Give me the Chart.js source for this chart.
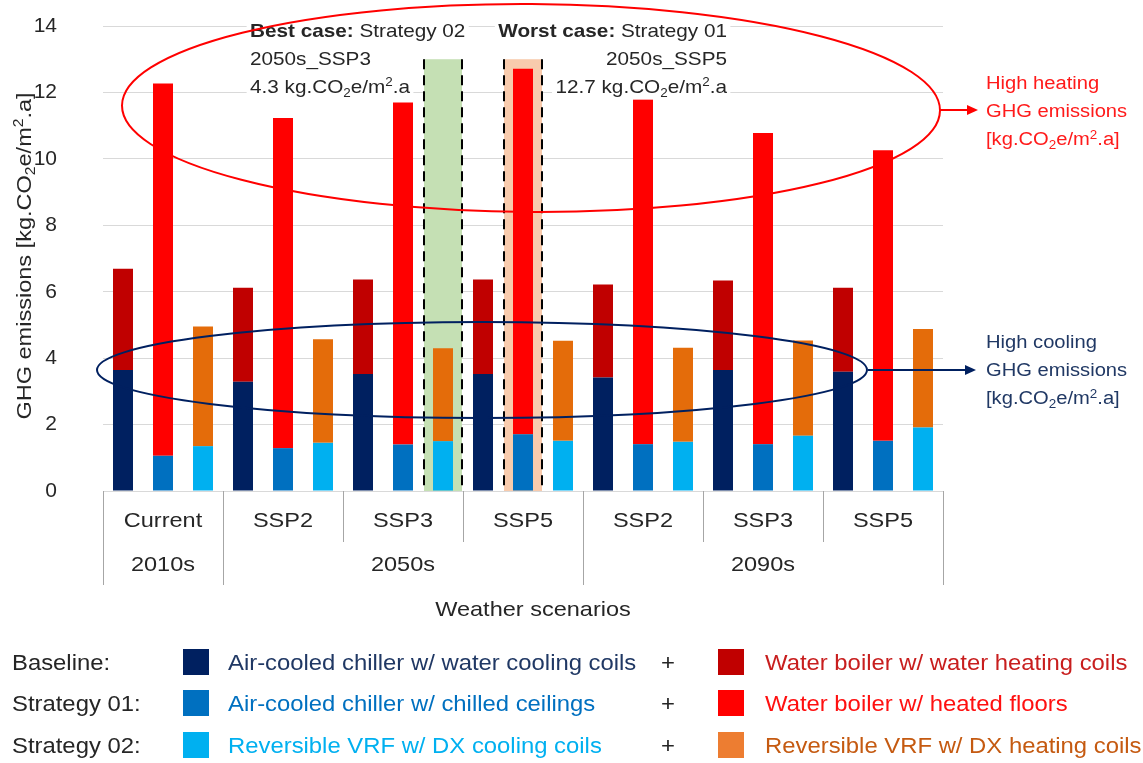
<!DOCTYPE html>
<html>
  <head>
    <meta charset="utf-8">
    <title>GHG emissions by weather scenario</title>
    <script src="https://cdn.jsdelivr.net/npm/chart.js@4.4.1/dist/chart.umd.min.js"></script>
    <style>
      body { margin: 0; background: #ffffff; }
    </style>
  </head>
  <body>
    <canvas id="myChart" width="1143" height="763"></canvas>

    <script>
      // data (kg.CO2e/m2.a)
      const scenarios = ['Current', 'SSP2', 'SSP3', 'SSP5', 'SSP2', 'SSP3', 'SSP5'];
      const periods = ['2010s', '2050s', '2090s'];
      const periodSpans = [1, 3, 3];

      const baseCooling = [3.64, 3.29, 3.52, 3.52, 3.42, 3.64, 3.59];
      const baseHeating = [3.05, 2.83, 2.85, 2.85, 2.80, 2.70, 2.53];
      const s01Cooling  = [1.06, 1.29, 1.40, 1.71, 1.41, 1.41, 1.51];
      const s01Heating  = [11.21, 9.94, 10.30, 11.00, 10.38, 9.37, 8.75];
      const s02Cooling  = [1.35, 1.45, 1.50, 1.51, 1.48, 1.66, 1.91];
      const s02Heating  = [3.60, 3.12, 2.80, 3.01, 2.83, 2.87, 2.97];

      const legendRows   = ['Baseline:', 'Strategy 01:', 'Strategy 02:'];
      const coolingNames = ['Air-cooled chiller w/ water cooling coils', 'Air-cooled chiller w/ chilled ceilings', 'Reversible VRF w/ DX cooling coils'];
      const heatingNames = ['Water boiler w/ water heating coils', 'Water boiler w/ heated floors', 'Reversible VRF w/ DX heating coils'];

      const FAM = '"Liberation Sans", Arial, sans-serif';
      const coolColors = ['#002060', '#0070C0', '#00B0F0'];
      const heatColors = ['#C00000', '#FF0000', '#E46C0A'];
      const heatSwatch = ['#C00000', '#FF0000', '#ED7D31'];
      const coolText = ['#203864', '#0070C0', '#00B0F0'];
      const heatText = ['#C81E1E', '#FF1010', '#C55A11'];

      // draws text with sub/superscripts, y = middle of the capitals
      function drawRich(ctx, parts, x, y, o) {
        const size = o.size, sx = o.sx || 1.12;
        const fnt = m => (m === 'b' ? 'bold ' : '') + ((m === 'sub' || m === 'sup') ? Math.round(size * 0.66) : size) + 'px ' + FAM;
        let w = 0;
        parts.forEach(p => { ctx.font = fnt(p[1]); w += ctx.measureText(p[0]).width; });
        ctx.save();
        ctx.translate(x, y);
        if (o.rot) ctx.rotate(o.rot);
        ctx.scale(sx, 1);
        let cx = o.align === 'right' ? -w : o.align === 'center' ? -w / 2 : 0;
        if (o.bg) {
          ctx.fillStyle = '#ffffff';
          ctx.fillRect(cx - 3, -size * 0.72, w + 6, size * 1.44);
        }
        ctx.fillStyle = o.color || '#262626';
        ctx.textAlign = 'left';
        ctx.textBaseline = 'alphabetic';
        const base = size * 0.36;
        parts.forEach(p => {
          ctx.font = fnt(p[1]);
          const dy = p[1] === 'sub' ? size * 0.22 : p[1] === 'sup' ? -size * 0.36 : 0;
          ctx.fillText(p[0], cx, base + dy);
          cx += ctx.measureText(p[0]).width;
        });
        ctx.restore();
      }

      const unit = (pre, post) => [[pre + 'kg.CO', 'n'], ['2', 'sub'], ['e/m', 'n'], ['2', 'sup'], ['.a' + post, 'n']];

      function arrow(ctx, x1, x2, y, color) {
        ctx.strokeStyle = color;
        ctx.fillStyle = color;
        ctx.lineWidth = 2;
        ctx.beginPath(); ctx.moveTo(x1, y); ctx.lineTo(x2 - 8, y); ctx.stroke();
        ctx.beginPath(); ctx.moveTo(x2, y); ctx.lineTo(x2 - 11, y - 5); ctx.lineTo(x2 - 11, y + 5); ctx.closePath(); ctx.fill();
      }

      // highlight boxes behind the best / worst bars
      const highlightPlugin = {
        id: 'highlight',
        beforeDatasetsDraw(chart) {
          const ctx = chart.ctx, y = chart.scales.y;
          const boxes = [
            { ds: 4, i: 2, fill: '#C5E0B4' },  // best case: Strategy 02, 2050s SSP3
            { ds: 2, i: 3, fill: '#F8CBAD' }   // worst case: Strategy 01, 2050s SSP5
          ];
          const top = y.getPixelForValue(13), bottom = y.getPixelForValue(0);
          ctx.save();
          boxes.forEach(b => {
            const bar = chart.getDatasetMeta(b.ds).data[b.i];
            const l = bar.x - 19, r = bar.x + 19;
            ctx.fillStyle = b.fill;
            ctx.fillRect(l, top, r - l, bottom - top);
            ctx.strokeStyle = '#000000';
            ctx.lineWidth = 2;
            ctx.setLineDash([10, 6]);
            [l, r].forEach(px => {
              ctx.beginPath(); ctx.moveTo(px, top); ctx.lineTo(px, bottom); ctx.stroke();
            });
            ctx.setLineDash([]);
          });
          ctx.restore();
        }
      };

      const decorPlugin = {
        id: 'decor',
        afterDraw(chart) {
          const ctx = chart.ctx, area = chart.chartArea, x = chart.scales.x;
          const catW = (area.right - area.left) / scenarios.length;
          ctx.save();

          // y axis title
          drawRich(ctx, [['GHG emissions [kg.CO', 'n'], ['2', 'sub'], ['e/m', 'n'], ['2', 'sup'], ['.a]', 'n']],
                   23, 256, { size: 21, rot: -Math.PI / 2, align: 'center' });

          // two level category axis
          ctx.strokeStyle = '#A6A6A6';
          ctx.lineWidth = 1;
          const longIdx = [0];
          let acc = 0;
          periodSpans.forEach(s => { acc += s; longIdx.push(acc); });
          for (let k = 0; k <= scenarios.length; k++) {
            const px = Math.round(area.left + k * catW) + 0.5;
            const end = longIdx.includes(k) ? 585 : 542;
            ctx.beginPath(); ctx.moveTo(px, area.bottom); ctx.lineTo(px, end); ctx.stroke();
          }
          scenarios.forEach((s, i) => drawRich(ctx, [[s, 'n']], x.getPixelForValue(i), 519, { size: 21, align: 'center' }));
          let start = 0;
          periods.forEach((p, k) => {
            const cx = area.left + (start + periodSpans[k] / 2) * catW;
            drawRich(ctx, [[p, 'n']], cx, 563, { size: 21, align: 'center' });
            start += periodSpans[k];
          });
          drawRich(ctx, [['Weather scenarios', 'n']], 533, 608, { size: 21, align: 'center' });

          // best / worst case notes
          const ns = 18.5;
          drawRich(ctx, [['Best case:', 'b'], [' Strategy 02', 'n']], 250, 30, { size: ns, bg: true });
          drawRich(ctx, [['2050s_SSP3', 'n']], 250, 58, { size: ns, bg: true });
          drawRich(ctx, unit('4.3 ', ''), 250, 86, { size: ns, bg: true });
          drawRich(ctx, [['Worst case:', 'b'], [' Strategy 01', 'n']], 727, 30, { size: ns, align: 'right', bg: true });
          drawRich(ctx, [['2050s_SSP5', 'n']], 727, 58, { size: ns, align: 'right', bg: true });
          drawRich(ctx, unit('12.7 ', ''), 727, 86, { size: ns, align: 'right', bg: true });

          // ellipses and arrows
          ctx.lineWidth = 2;
          ctx.strokeStyle = '#FF0000';
          ctx.beginPath(); ctx.ellipse(531, 108, 409, 104, 0.006, 0, Math.PI * 2); ctx.stroke();
          arrow(ctx, 940, 978, 110, '#FF0000');
          ctx.strokeStyle = '#002060';
          ctx.lineWidth = 2;
          ctx.beginPath(); ctx.ellipse(482, 370, 385, 48, 0, 0, Math.PI * 2); ctx.stroke();
          arrow(ctx, 868, 976, 370, '#002060');

          const rs = 18;
          drawRich(ctx, [['High heating', 'n']], 986, 83, { size: rs, color: '#FF1A1A' });
          drawRich(ctx, [['GHG emissions', 'n']], 986, 111, { size: rs, color: '#FF1A1A' });
          drawRich(ctx, unit('[', ']'), 986, 139, { size: rs, color: '#FF1A1A' });
          drawRich(ctx, [['High cooling', 'n']], 986, 342, { size: rs, color: '#203864' });
          drawRich(ctx, [['GHG emissions', 'n']], 986, 370, { size: rs, color: '#203864' });
          drawRich(ctx, unit('[', ']'), 986, 398, { size: rs, color: '#203864' });

          // legend
          const rowY = [662, 703, 745];
          const ls = 21.3;
          legendRows.forEach((lab, r) => {
            const ym = rowY[r];
            drawRich(ctx, [[lab, 'n']], 12, ym, { size: ls });
            ctx.fillStyle = coolColors[r];
            ctx.fillRect(183, ym - 13, 26, 26);
            drawRich(ctx, [[coolingNames[r], 'n']], 228, ym, { size: ls, color: coolText[r] });
            drawRich(ctx, [['+', 'n']], 668, ym, { size: ls, align: 'center' });
            ctx.fillStyle = heatSwatch[r];
            ctx.fillRect(718, ym - 13, 26, 26);
            drawRich(ctx, [[heatingNames[r], 'n']], 765, ym, { size: ls, color: heatText[r] });
          });
          ctx.restore();
        }
      };

      const stacks = ['base', 's01', 's02'];
      const cooling = [baseCooling, s01Cooling, s02Cooling];
      const heating = [baseHeating, s01Heating, s02Heating];
      const datasets = [];
      stacks.forEach((st, k) => {
        datasets.push({ label: coolingNames[k], data: cooling[k], backgroundColor: coolColors[k], stack: st,
                        categoryPercentage: 1, barPercentage: 0.5 });
        datasets.push({ label: heatingNames[k], data: heating[k], backgroundColor: heatColors[k], stack: st,
                        categoryPercentage: 1, barPercentage: 0.5 });
      });

      var ctx = document.getElementById('myChart').getContext('2d');
      var chart = new Chart(ctx, {
        type: 'bar',
        data: { labels: scenarios, datasets: datasets },
        options: {
          responsive: false,
          animation: false,
          devicePixelRatio: 1,
          layout: { padding: { top: 26, right: 200, bottom: 272, left: 0 } },
          scales: {
            x: { display: false, stacked: true },
            y: {
              stacked: true,
              min: 0,
              max: 14,
              ticks: { stepSize: 2, padding: 46, color: '#262626', font: { size: 21, family: FAM } },
              grid: { color: '#D9D9D9', drawTicks: false, tickLength: 0 },
              border: { display: false },
              // fixed axis width; no extra padding from the tick padding
              afterFit(s) { s.width = 103; s.paddingTop = 0; s.paddingBottom = 0; }
            }
          },
          plugins: { legend: { display: false }, tooltip: { enabled: false } }
        },
        plugins: [highlightPlugin, decorPlugin]
      });
    </script>
  </body>
</html>
